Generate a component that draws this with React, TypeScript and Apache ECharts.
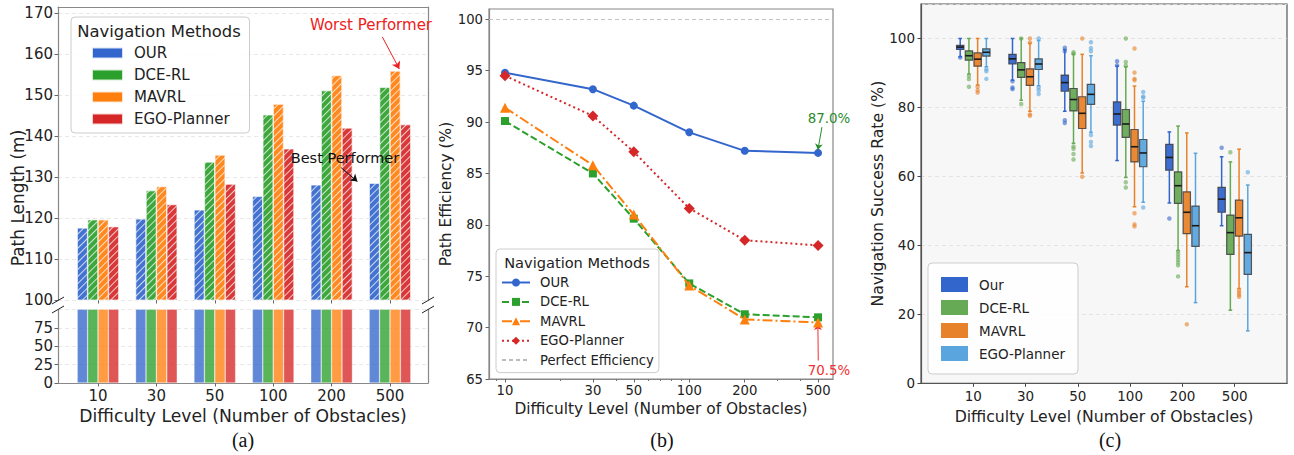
import React, { useEffect, useRef } from 'react';
import * as echarts from 'echarts';

// ---------------- data ----------------
const obstacleLabels = ['10', '30', '50', '100', '200', '500'];
const obstacleCounts = [10, 30, 50, 100, 200, 500];
const minorCounts = [9, 20, 40, 60, 70, 80, 90, 300, 400];
const methodsAB = ['OUR', 'DCE-RL', 'MAVRL', 'EGO-Planner'];
const methodsC = ['Our', 'DCE-RL', 'MAVRL', 'EGO-Planner'];

// (a) path length (m)
const pathOUR = [117.6, 119.8, 122.0, 125.3, 128.1, 128.5];
const pathDCE = [119.6, 126.7, 133.7, 145.2, 151.1, 151.9];
const pathMAVRL = [119.6, 127.7, 135.4, 147.8, 154.8, 155.9];
const pathEGO = [117.9, 123.3, 128.3, 136.9, 142.0, 142.8];

// (b) path efficiency (%)
const effOUR = [94.8, 93.2, 91.6, 89.0, 87.2, 87.0];
const effDCE = [90.1, 85.0, 80.6, 74.3, 71.3, 71.0];
const effMAVRL = [91.4, 85.8, 81.0, 74.1, 70.8, 70.5];
const effEGO = [94.5, 90.6, 87.1, 81.6, 78.5, 78.0];

// (c) navigation success rate: [low whisker, q1, median, q3, high whisker]
const boxOur = [
  [94.7, 96.8, 97.5, 98.0, 100],
  [87.9, 92.6, 94.1, 95.4, 100],
  [78.9, 84.7, 87.2, 89.4, 96.8],
  [64.6, 74.9, 78.1, 81.6, 92.0],
  [52.3, 61.8, 65.5, 69.3, 72.9],
  [45.7, 49.6, 53.4, 56.8, 65.7],
];
const boxDCE = [
  [89.7, 93.7, 95.0, 96.4, 100],
  [82.1, 88.7, 90.9, 93.0, 100],
  [69.6, 79.0, 82.3, 85.5, 95.4],
  [59.7, 71.3, 75.2, 79.4, 91.8],
  [38.5, 52.2, 57.3, 61.3, 74.6],
  [21.2, 37.4, 43.7, 48.8, 64.2],
];
const boxMAVRL = [
  [86.5, 92.0, 94.0, 95.8, 100],
  [78.9, 86.4, 88.9, 91.2, 98.6],
  [61.0, 73.9, 78.3, 83.1, 95.4],
  [51.2, 64.2, 68.6, 73.6, 86.2],
  [28.0, 43.4, 49.6, 55.5, 72.6],
  [27.5, 42.7, 48.0, 53.1, 67.9],
];
const boxEGO = [
  [91.8, 94.9, 96.0, 97.0, 100],
  [86.3, 91.0, 92.6, 94.1, 99.4],
  [72.8, 80.9, 83.8, 86.7, 95.0],
  [52.5, 62.8, 66.8, 70.7, 81.8],
  [23.4, 39.7, 45.7, 51.4, 66.7],
  [15.2, 31.6, 37.9, 43.2, 57.5],
];
// outliers: [group index, value]
const outOur = [[0, 94.5], [1, 87.6], [1, 85.8], [1, 85.3], [2, 97.3], [2, 96.3], [2, 76.3], [2, 75.5], [3, 93.4], [3, 92.2], [4, 47.8], [5, 68.3]];
const outDCE = [[0, 89.1], [0, 88.2], [0, 86.0], [1, 100], [1, 81.0], [2, 96.0], [2, 95.6], [2, 68.7], [2, 68.0], [2, 66.5], [2, 64.9], [3, 100], [3, 93.2], [3, 92.1], [3, 58.3], [3, 56.8], [4, 38.2], [4, 37.4], [4, 36.6], [4, 35.8], [4, 35.0], [4, 34.2], [4, 31.0], [5, 67.0]];
const outMAVRL = [[0, 86.0], [0, 85.0], [0, 84.3], [1, 100], [1, 98.8], [1, 78.0], [1, 77.6], [2, 100], [2, 59.9], [3, 97.1], [3, 90.1], [3, 88.3], [3, 87.9], [3, 49.3], [3, 46.1], [3, 45.5], [4, 17.1], [5, 27.0], [5, 26.3], [5, 25.7], [5, 25.1]];
const outEGO = [[0, 91.1], [0, 90.5], [0, 88.3], [1, 100], [1, 85.8], [1, 85.0], [1, 83.9], [2, 98.9], [2, 97.2], [2, 96.3], [2, 72.0], [2, 70.0], [2, 68.8], [3, 84.5], [3, 83.2], [3, 82.8], [3, 51.0], [5, 61.2]];

// annotations (data coordinates)
const worstArrow = [[4.78, 164.2], [5.07, 156.4]];
const bestArrow = [[4.43, 132.3], [4.71, 128.9]];
const ourEndArrow = [[2.72, 89.5], [2.698, 87.3]];
const mavrlEndArrow = [[2.70, 66.8], [2.698, 70.35]];

// ---------------- styles ----------------
const F = 'DejaVu Sans, sans-serif';
const SERIF = 'Liberation Serif, Times New Roman, serif';
const colA = ['#3366cc', '#2ca02c', '#ff7f0e', '#d62728'];
const colC = ['#3366cc', '#66aa55', '#e8822a', '#5aa5dd'];
const lineTypes: any[] = ['solid', [7, 3], [10, 3, 2, 3], [2, 3]];
const symbols = ['circle', 'rect', 'triangle', 'diamond'];
const symbolSizes = [8, 8, 10, 11];
const boxOffsets = [-0.25, -0.0833, 0.0833, 0.25];
const boxWidth = 0.14;
const capWidth = 0.07;

const pathSeries = [pathOUR, pathDCE, pathMAVRL, pathEGO];
const effSeries = [effOUR, effDCE, effMAVRL, effEGO];
const boxSeries = [boxOur, boxDCE, boxMAVRL, boxEGO];
const outSeries = [outOur, outDCE, outMAVRL, outEGO];

const stripPrefix = (n: string) => n.replace(/^[abc]_/, '');

function makeBoxRender(color: string, offset: number) {
  return (params: any, api: any) => {
    const x = api.value(0) + offset;
    const low = api.coord([x, api.value(1)]);
    const q1 = api.coord([x, api.value(2)]);
    const med = api.coord([x, api.value(3)]);
    const q3 = api.coord([x, api.value(4)]);
    const high = api.coord([x, api.value(5)]);
    const hw = api.size([boxWidth, 0])[0] / 2;
    const cw = api.size([capWidth, 0])[0] / 2;
    const cx = low[0];
    const ws = { stroke: color, lineWidth: 1.5 };
    return {
      type: 'group',
      children: [
        { type: 'line', shape: { x1: cx, y1: high[1], x2: cx, y2: q3[1] }, style: ws },
        { type: 'line', shape: { x1: cx, y1: q1[1], x2: cx, y2: low[1] }, style: ws },
        { type: 'line', shape: { x1: cx - cw, y1: high[1], x2: cx + cw, y2: high[1] }, style: ws },
        { type: 'line', shape: { x1: cx - cw, y1: low[1], x2: cx + cw, y2: low[1] }, style: ws },
        { type: 'rect', shape: { x: cx - hw, y: q3[1], width: 2 * hw, height: q1[1] - q3[1] }, style: { fill: color, opacity: 0.95, stroke: 'rgba(55,55,55,0.85)', lineWidth: 1.2 } },
        { type: 'line', shape: { x1: cx - hw, y1: med[1], x2: cx + hw, y2: med[1] }, style: { stroke: '#1a1a1a', lineWidth: 1.6 } },
      ],
    };
  };
}

function buildOption(): any {
  const hatch = {
    symbol: 'rect', symbolSize: 1, color: 'rgba(255,255,255,0.8)',
    dashArrayX: [1, 0], dashArrayY: [1, 4], rotation: -Math.PI / 4,
  };
  const tickLabel = (size: number) => ({ fontFamily: F, fontSize: size, color: '#222' });
  const hidden = { show: false };
  const frame = (c: string) => ({ show: true, onZero: false, lineStyle: { color: c, width: 1.2 } });

  const barMin = -0.685, barMax = 5.651;
  const groupIdx = obstacleLabels.map((_, i) => i);
  const logMin = Math.log10(8.19), logMax = Math.log10(602.6);

  const series: any[] = [];
  // (a) top bars (hatched)
  methodsAB.forEach((m, k) => {
    const s: any = {
      type: 'bar', name: 'a1_' + m, xAxisIndex: 0, yAxisIndex: 0,
      data: pathSeries[k].map((v, i) => [i, v]),
      barWidth: 10.4, barGap: '0%',
      itemStyle: { color: colA[k], opacity: 0.92, borderColor: 'rgba(255,255,255,0.8)', borderWidth: 0.5, decal: hatch },
    };
    if (k === 2) {
      s.markLine = {
        silent: true, symbol: ['none', 'arrow'], symbolSize: 7, label: { show: false },
        lineStyle: { color: '#ee2020', width: 1, type: 'solid' },
        data: [[{ coord: worstArrow[0] }, { coord: worstArrow[1] }]],
      };
    }
    if (k === 0) {
      s.markLine = {
        silent: true, symbol: ['none', 'arrow'], symbolSize: 7, label: { show: false },
        lineStyle: { color: '#111', width: 1, type: 'solid' },
        data: [[{ coord: bestArrow[0] }, { coord: bestArrow[1] }]],
      };
    }
    series.push(s);
  });
  // (a) bottom bars (solid)
  methodsAB.forEach((m, k) => {
    series.push({
      type: 'bar', name: 'a_' + m, xAxisIndex: 2, yAxisIndex: 2,
      data: pathSeries[k].map((v, i) => [i, v]),
      barWidth: 10.4, barGap: '0%',
      itemStyle: { color: colA[k], opacity: 0.78, borderColor: 'rgba(255,255,255,0.8)', borderWidth: 0.5 },
    });
  });
  // (b) lines
  methodsAB.forEach((m, k) => {
    const s: any = {
      type: 'line', name: 'b_' + m, xAxisIndex: 3, yAxisIndex: 4,
      data: effSeries[k].map((v, i) => [Math.log10(obstacleCounts[i]), v]),
      symbol: symbols[k], symbolSize: symbolSizes[k], showSymbol: true,
      lineStyle: { color: colA[k], width: 2, type: lineTypes[k] },
      itemStyle: { color: colA[k] },
      z: 3 + k,
    };
    if (k === 0) {
      s.markLine = {
        silent: true, symbol: ['none', 'arrow'], symbolSize: 6, label: { show: false },
        lineStyle: { color: '#2a8a2a', width: 1, type: 'solid' },
        data: [[{ coord: ourEndArrow[0] }, { coord: ourEndArrow[1] }]],
      };
    }
    if (k === 2) {
      s.markLine = {
        silent: true, symbol: ['none', 'arrow'], symbolSize: 6, label: { show: false },
        lineStyle: { color: '#f03030', width: 1, type: 'solid' },
        data: [[{ coord: mavrlEndArrow[0] }, { coord: mavrlEndArrow[1] }]],
      };
    }
    series.push(s);
  });
  series.push({
    type: 'line', name: 'b_Perfect Efficiency', xAxisIndex: 3, yAxisIndex: 4,
    data: [], symbol: 'none',
    lineStyle: { color: '#bbbbbb', width: 1, type: [4, 3] },
    itemStyle: { color: '#bbbbbb' },
    markLine: {
      silent: true, symbol: 'none', label: { show: false },
      lineStyle: { color: '#c4c4c4', width: 1, type: [4, 3] },
      data: [{ yAxis: 100 }],
    },
  });
  // (c) boxes
  methodsC.forEach((m, k) => {
    series.push({
      type: 'custom', name: 'c_' + m, xAxisIndex: 5, yAxisIndex: 5,
      data: boxSeries[k].map((s, i) => [i + 1, ...s]),
      encode: { x: 0, y: [1, 2, 3, 4, 5] },
      itemStyle: { color: colC[k] },
      renderItem: makeBoxRender(colC[k], boxOffsets[k]),
      z: 3,
    });
    series.push({
      type: 'scatter', name: 'c_out_' + m, xAxisIndex: 5, yAxisIndex: 5,
      data: outSeries[k].map(([g, v]) => [g + 1 + boxOffsets[k], v]),
      symbol: 'circle', symbolSize: 4.5,
      itemStyle: { color: colC[k], opacity: 0.6 },
      z: 4,
    });
  });

  const titleStyle = (size: number) => ({ fontFamily: F, fontSize: size, color: '#222' });

  return {
    animation: false,
    backgroundColor: '#ffffff',
    grid: [
      { left: 58, top: 7, width: 370, height: 293 },
      { left: 58, top: 309.5, width: 370, height: 73.5 },
      { left: 489, top: 9, width: 344, height: 370, show: true, borderColor: '#888', borderWidth: 1.2, backgroundColor: 'transparent' },
      { left: 921, top: 4, width: 366, height: 379.3, show: true, borderColor: '#555', borderWidth: 1.2, backgroundColor: '#f7f7f7' },
    ],
    xAxis: [
      { gridIndex: 0, type: 'value', min: barMin, max: barMax, position: 'bottom',
        axisLine: hidden, splitLine: hidden, axisLabel: hidden,
        axisTick: { show: true, customValues: groupIdx, length: 3.5, lineStyle: { color: '#666' } } },
      { gridIndex: 0, type: 'value', min: barMin, max: barMax, position: 'top',
        axisLine: frame('#888'), splitLine: hidden, axisLabel: hidden, axisTick: hidden },
      { gridIndex: 1, type: 'value', min: barMin, max: barMax, position: 'bottom',
        axisLine: frame('#888'), splitLine: hidden,
        axisTick: { show: true, customValues: groupIdx, length: 3.5, lineStyle: { color: '#666' } },
        axisLabel: { ...tickLabel(15), customValues: groupIdx, margin: 5, formatter: (v: number) => obstacleLabels[Math.round(v)] },
        name: 'Difficulty Level (Number of Obstacles)', nameLocation: 'middle', nameGap: 24, nameTextStyle: titleStyle(17.2) },
      { gridIndex: 2, type: 'value', min: logMin, max: logMax, position: 'bottom',
        axisLine: frame('#888'), splitLine: hidden,
        axisTick: { show: true, customValues: obstacleCounts.map(Math.log10), length: 3.5, lineStyle: { color: '#666' } },
        axisLabel: { ...tickLabel(13.2), customValues: obstacleCounts.map(Math.log10), margin: 5, formatter: (v: number) => String(Math.round(Math.pow(10, v))) },
        name: 'Difficulty Level (Number of Obstacles)', nameLocation: 'middle', nameGap: 20, nameTextStyle: titleStyle(15.4) },
      { gridIndex: 2, type: 'value', min: logMin, max: logMax, position: 'bottom',
        axisLine: hidden, splitLine: hidden, axisLabel: hidden,
        axisTick: { show: true, customValues: minorCounts.map(Math.log10), length: 2, lineStyle: { color: '#777' } } },
      { gridIndex: 3, type: 'value', min: 0, max: 7, position: 'bottom',
        axisLine: frame('#555'), splitLine: hidden,
        axisTick: { show: true, customValues: [1, 2, 3, 4, 5, 6], length: 3.5, lineStyle: { color: '#444' } },
        axisLabel: { ...tickLabel(13.5), customValues: [1, 2, 3, 4, 5, 6], margin: 6, formatter: (v: number) => obstacleLabels[Math.round(v) - 1] },
        name: 'Difficulty Level (Number of Obstacles)', nameLocation: 'middle', nameGap: 20, nameTextStyle: titleStyle(15.7) },
    ],
    yAxis: [
      { gridIndex: 0, type: 'value', min: 100, max: 171.5, interval: 10,
        axisLine: frame('#888'),
        axisTick: { show: true, length: 3.5, lineStyle: { color: '#666' } },
        axisLabel: { ...tickLabel(15), margin: 5, showMaxLabel: false, formatter: (v: number) => (v % 10 === 0 ? String(v) : '') },
        splitLine: { show: true, lineStyle: { color: '#e2e2e2', type: [4, 3], width: 0.8 } } },
      { gridIndex: 0, type: 'value', position: 'right', min: 0, max: 1,
        axisLine: frame('#888'), axisTick: hidden, axisLabel: hidden, splitLine: hidden },
      { gridIndex: 1, type: 'value', min: 0, max: 100, interval: 25,
        axisLine: frame('#888'),
        axisTick: { show: true, length: 3.5, lineStyle: { color: '#666' } },
        axisLabel: { ...tickLabel(15), margin: 5, showMaxLabel: false },
        splitLine: { show: true, lineStyle: { color: '#e2e2e2', type: [4, 3], width: 0.8 } } },
      { gridIndex: 1, type: 'value', position: 'right', min: 0, max: 1,
        axisLine: frame('#888'), axisTick: hidden, axisLabel: hidden, splitLine: hidden },
      { gridIndex: 2, type: 'value', min: 65, max: 101, interval: 5,
        axisLine: frame('#888'),
        axisTick: { show: true, length: 3.5, lineStyle: { color: '#666' } },
        axisLabel: { ...tickLabel(13.2), margin: 6, showMaxLabel: false, formatter: (v: number) => (v % 5 === 0 ? String(v) : '') },
        splitLine: hidden,
        name: 'Path Efficiency (%)', nameLocation: 'middle', nameGap: 34, nameTextStyle: titleStyle(15.4) },
      { gridIndex: 3, type: 'value', min: 0, max: 110, interval: 20,
        axisLine: frame('#555'),
        axisTick: { show: true, length: 3.5, lineStyle: { color: '#444' } },
        axisLabel: { ...tickLabel(13.5), margin: 6, showMaxLabel: false, formatter: (v: number) => (v <= 100 && v % 20 === 0 ? String(v) : '') },
        splitLine: { show: true, lineStyle: { color: '#dddddd', type: [4, 3], width: 0.8 } },
        name: 'Navigation Success Rate (%)', nameLocation: 'middle', nameGap: 36, nameTextStyle: titleStyle(15.7) },
    ],
    legend: [
      { left: 71, top: 17, orient: 'vertical', icon: 'rect', itemWidth: 31, itemHeight: 11, itemGap: 4,
        padding: [27, 20, 5, 20], backgroundColor: 'rgba(255,255,255,0.85)', borderColor: '#cccccc', borderWidth: 1, borderRadius: 4,
        data: methodsAB.map((m) => 'a_' + m), formatter: stripPrefix,
        itemStyle: { opacity: 1 },
        textStyle: { fontFamily: F, fontSize: 15, color: '#222', lineHeight: 18, padding: [0, 0, 0, 6] } },
      { left: 496, top: 249, orient: 'vertical', itemWidth: 28, itemHeight: 10, itemGap: 2.4,
        padding: [25, 5, 4, 5], backgroundColor: 'rgba(255,255,255,0.85)', borderColor: '#cccccc', borderWidth: 1, borderRadius: 4,
        data: [
          ...methodsAB.map((m) => 'b_' + m),
          { name: 'b_Perfect Efficiency', itemStyle: { opacity: 0 } },
        ],
        formatter: stripPrefix,
        textStyle: { fontFamily: F, fontSize: 13.2, color: '#222', lineHeight: 17, padding: [0, 0, 0, 5] } },
      { left: 928, top: 263, orient: 'vertical', icon: 'rect', itemWidth: 27, itemHeight: 15, itemGap: 8,
        padding: [14, 13, 13, 13], backgroundColor: 'rgba(255,255,255,0.85)', borderColor: '#cccccc', borderWidth: 1, borderRadius: 4,
        data: methodsC.map((m) => 'c_' + m), formatter: stripPrefix,
        textStyle: { fontFamily: F, fontSize: 13.5, color: '#222', padding: [0, 0, 0, 6] } },
    ],
    graphic: [
      // (a) y axis title
      { type: 'text', x: 18, y: 198, rotation: Math.PI / 2, z: 100,
        style: { text: 'Path Length (m)', fontFamily: F, fontSize: 17, fill: '#222', align: 'center', verticalAlign: 'middle' } },
      // legend titles
      { type: 'text', x: 159, y: 31, z: 100,
        style: { text: 'Navigation Methods', fontFamily: F, fontSize: 16.4, fill: '#222', align: 'center', verticalAlign: 'middle' } },
      { type: 'text', x: 577, y: 262, z: 100,
        style: { text: 'Navigation Methods', fontFamily: F, fontSize: 14.6, fill: '#222', align: 'center', verticalAlign: 'middle' } },
      // annotations
      { type: 'text', x: 371, y: 25, z: 100,
        style: { text: 'Worst Performer', fontFamily: F, fontSize: 15, fill: '#ee2020', align: 'center', verticalAlign: 'middle' } },
      { type: 'text', x: 345, y: 158, z: 100,
        style: { text: 'Best Performer', fontFamily: F, fontSize: 14.5, fill: '#111', align: 'center', verticalAlign: 'middle' } },
      { type: 'text', x: 829, y: 118, z: 100,
        style: { text: '87.0%', fontFamily: F, fontSize: 13.4, fill: '#2a8a2a', align: 'center', verticalAlign: 'middle' } },
      { type: 'text', x: 829, y: 370, z: 100,
        style: { text: '70.5%', fontFamily: F, fontSize: 13.4, fill: '#f03030', align: 'center', verticalAlign: 'middle' } },
      // broken axis marks
      { type: 'line', z: 100, shape: { x1: 52, y1: 304, x2: 64, y2: 297 }, style: { stroke: '#222', lineWidth: 1 } },
      { type: 'line', z: 100, shape: { x1: 52, y1: 313, x2: 64, y2: 306 }, style: { stroke: '#222', lineWidth: 1 } },
      { type: 'line', z: 100, shape: { x1: 422, y1: 304, x2: 434, y2: 297 }, style: { stroke: '#222', lineWidth: 1 } },
      { type: 'line', z: 100, shape: { x1: 422, y1: 313, x2: 434, y2: 306 }, style: { stroke: '#222', lineWidth: 1 } },
      // captions
      { type: 'text', x: 243, y: 440, z: 100,
        style: { text: '(a)', fontFamily: SERIF, fontSize: 20, fill: '#111', align: 'center', verticalAlign: 'middle' } },
      { type: 'text', x: 662, y: 440, z: 100,
        style: { text: '(b)', fontFamily: SERIF, fontSize: 20, fill: '#111', align: 'center', verticalAlign: 'middle' } },
      { type: 'text', x: 1110, y: 440, z: 100,
        style: { text: '(c)', fontFamily: SERIF, fontSize: 20, fill: '#111', align: 'center', verticalAlign: 'middle' } },
    ],
    series,
  };
}

export default function App() {
  const ref = useRef<HTMLDivElement>(null);
  useEffect(() => {
    const chart = echarts.init(ref.current as HTMLDivElement, null, { renderer: 'svg' });
    chart.setOption(buildOption());
    return () => chart.dispose();
  }, []);
  return (
    <div
      ref={ref}
      style={{ position: 'fixed', left: 0, top: 0, width: 1294, height: 455, background: '#fff' }}
    />
  );
}
